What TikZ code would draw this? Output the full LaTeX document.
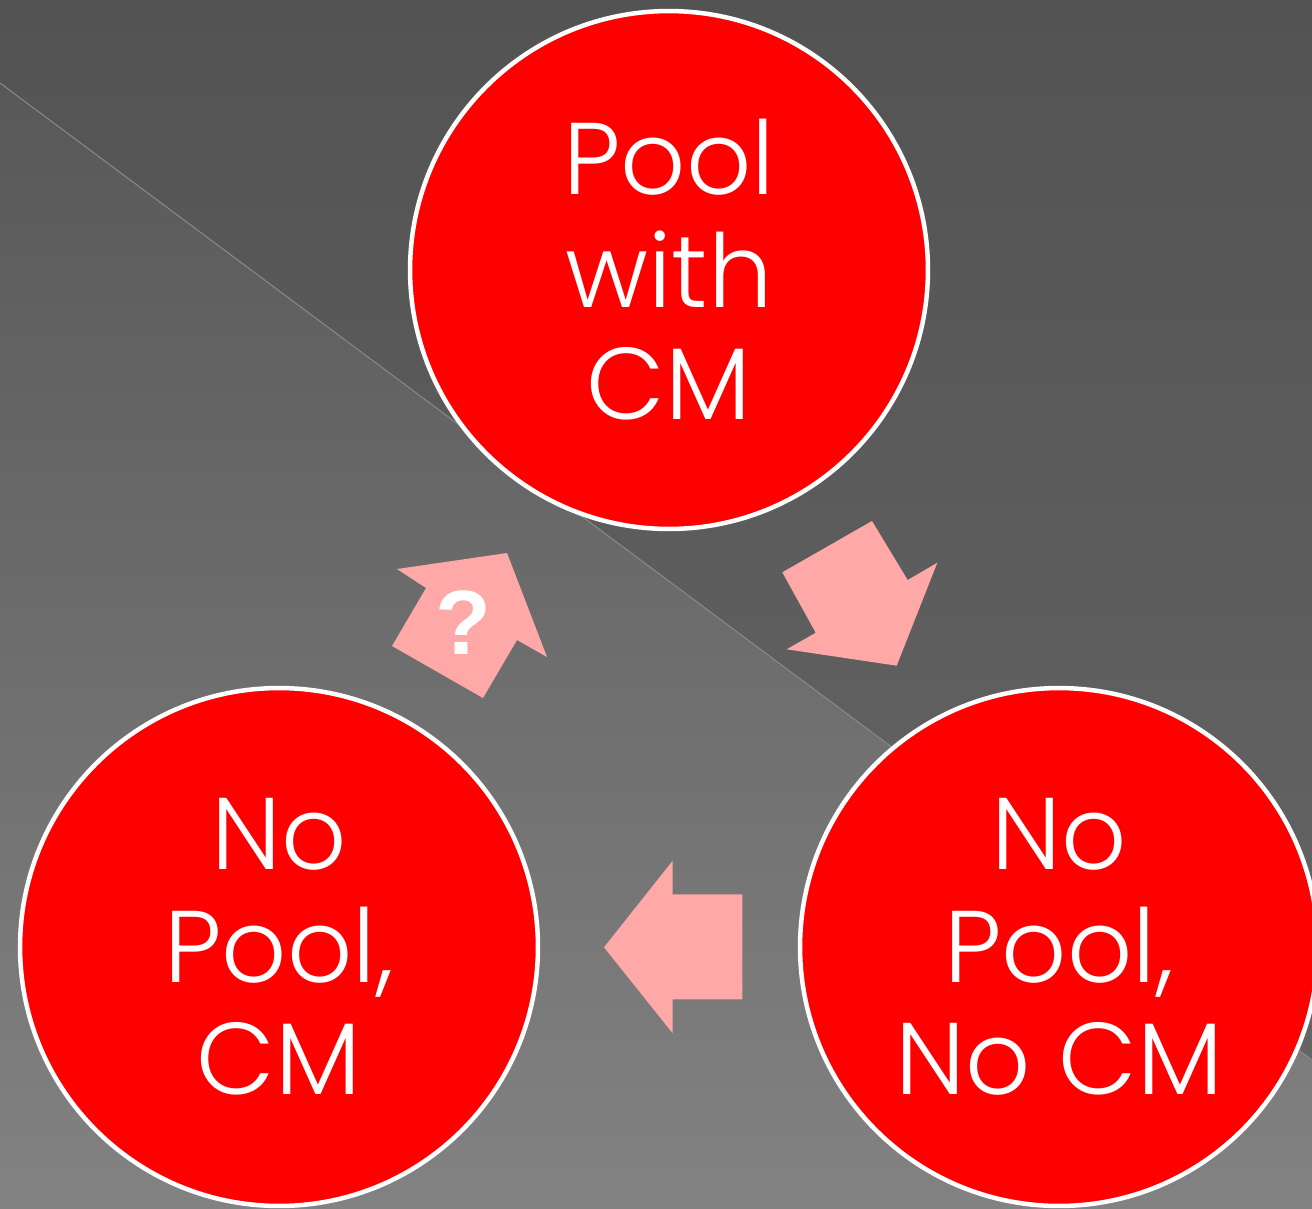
\documentclass[tikz,border=0pt]{standalone}
\usepackage{fontspec}
\setmainfont{Poppins}[UprightFont=* Light]
\newfontfamily\qfont{Liberation Sans}
\definecolor{ringred}{HTML}{FF0000}
\definecolor{blockpink}{HTML}{FFA8A8}
\definecolor{bgtop}{HTML}{555555}
\definecolor{bgbot}{HTML}{828282}
\definecolor{wedgetop}{HTML}{535353}
\definecolor{wedgebot}{HTML}{656565}
\definecolor{seam}{HTML}{8A8A8A}
\tikzset{
  stage/.style={circle, fill=ringred, draw=white, line width=0.09cm,
    minimum size=10.36cm, inner sep=0pt, text=white, align=center,
    font=\fontsize{58}{64}\selectfont},
  blockarrow/.style={fill=blockpink, draw=none}
}
\begin{document}
\begin{tikzpicture}[x=0.02cm, y=-0.02cm]
  % backdrop
  \useasboundingbox (0,0) rectangle (1312,1208);
  \shade[top color=bgtop, bottom color=bgbot] (0,0) rectangle (1312,1208);
  \shade[top color=wedgetop, bottom color=wedgebot]
    (0,0) -- (0,83) -- (1312,1060) -- (1312,0) -- cycle;
  \draw[seam, line width=0.02cm] (0,83) -- (1312,1060);

  % the three states
  \node[stage] (pool) at (669,270) {Pool\\with\\CM};
  \node[stage] (nopoolcm) at (279,947) {No\\Pool,\\CM};
  \node[stage] (nopoolnocm) at (1059,947) {No\\Pool,\\No CM};

  % block arrows between the states
  \fill[blockarrow] (872,521) -- (907.7,580) -- (937.3,562.7) -- (896.7,665.7)
    -- (786.7,649.3) -- (815.7,632.7) -- (782.3,572.3) -- cycle;
  \fill[blockarrow] (604,947.3) -- (672.7,860.7) -- (672.7,894.3) -- (742.3,894.3)
    -- (742.3,999.3) -- (672.7,999.3) -- (672.7,1033.3) -- cycle;
  \fill[blockarrow] (507,553) -- (547,657) -- (517,640) -- (483,698)
    -- (392,646) -- (426,588) -- (397,569) -- cycle;
  \node[text=white, font=\qfont\bfseries\fontsize{52}{52}\selectfont, inner sep=0pt]
    (ask) at (463,623) {?};
\end{tikzpicture}
\end{document}
